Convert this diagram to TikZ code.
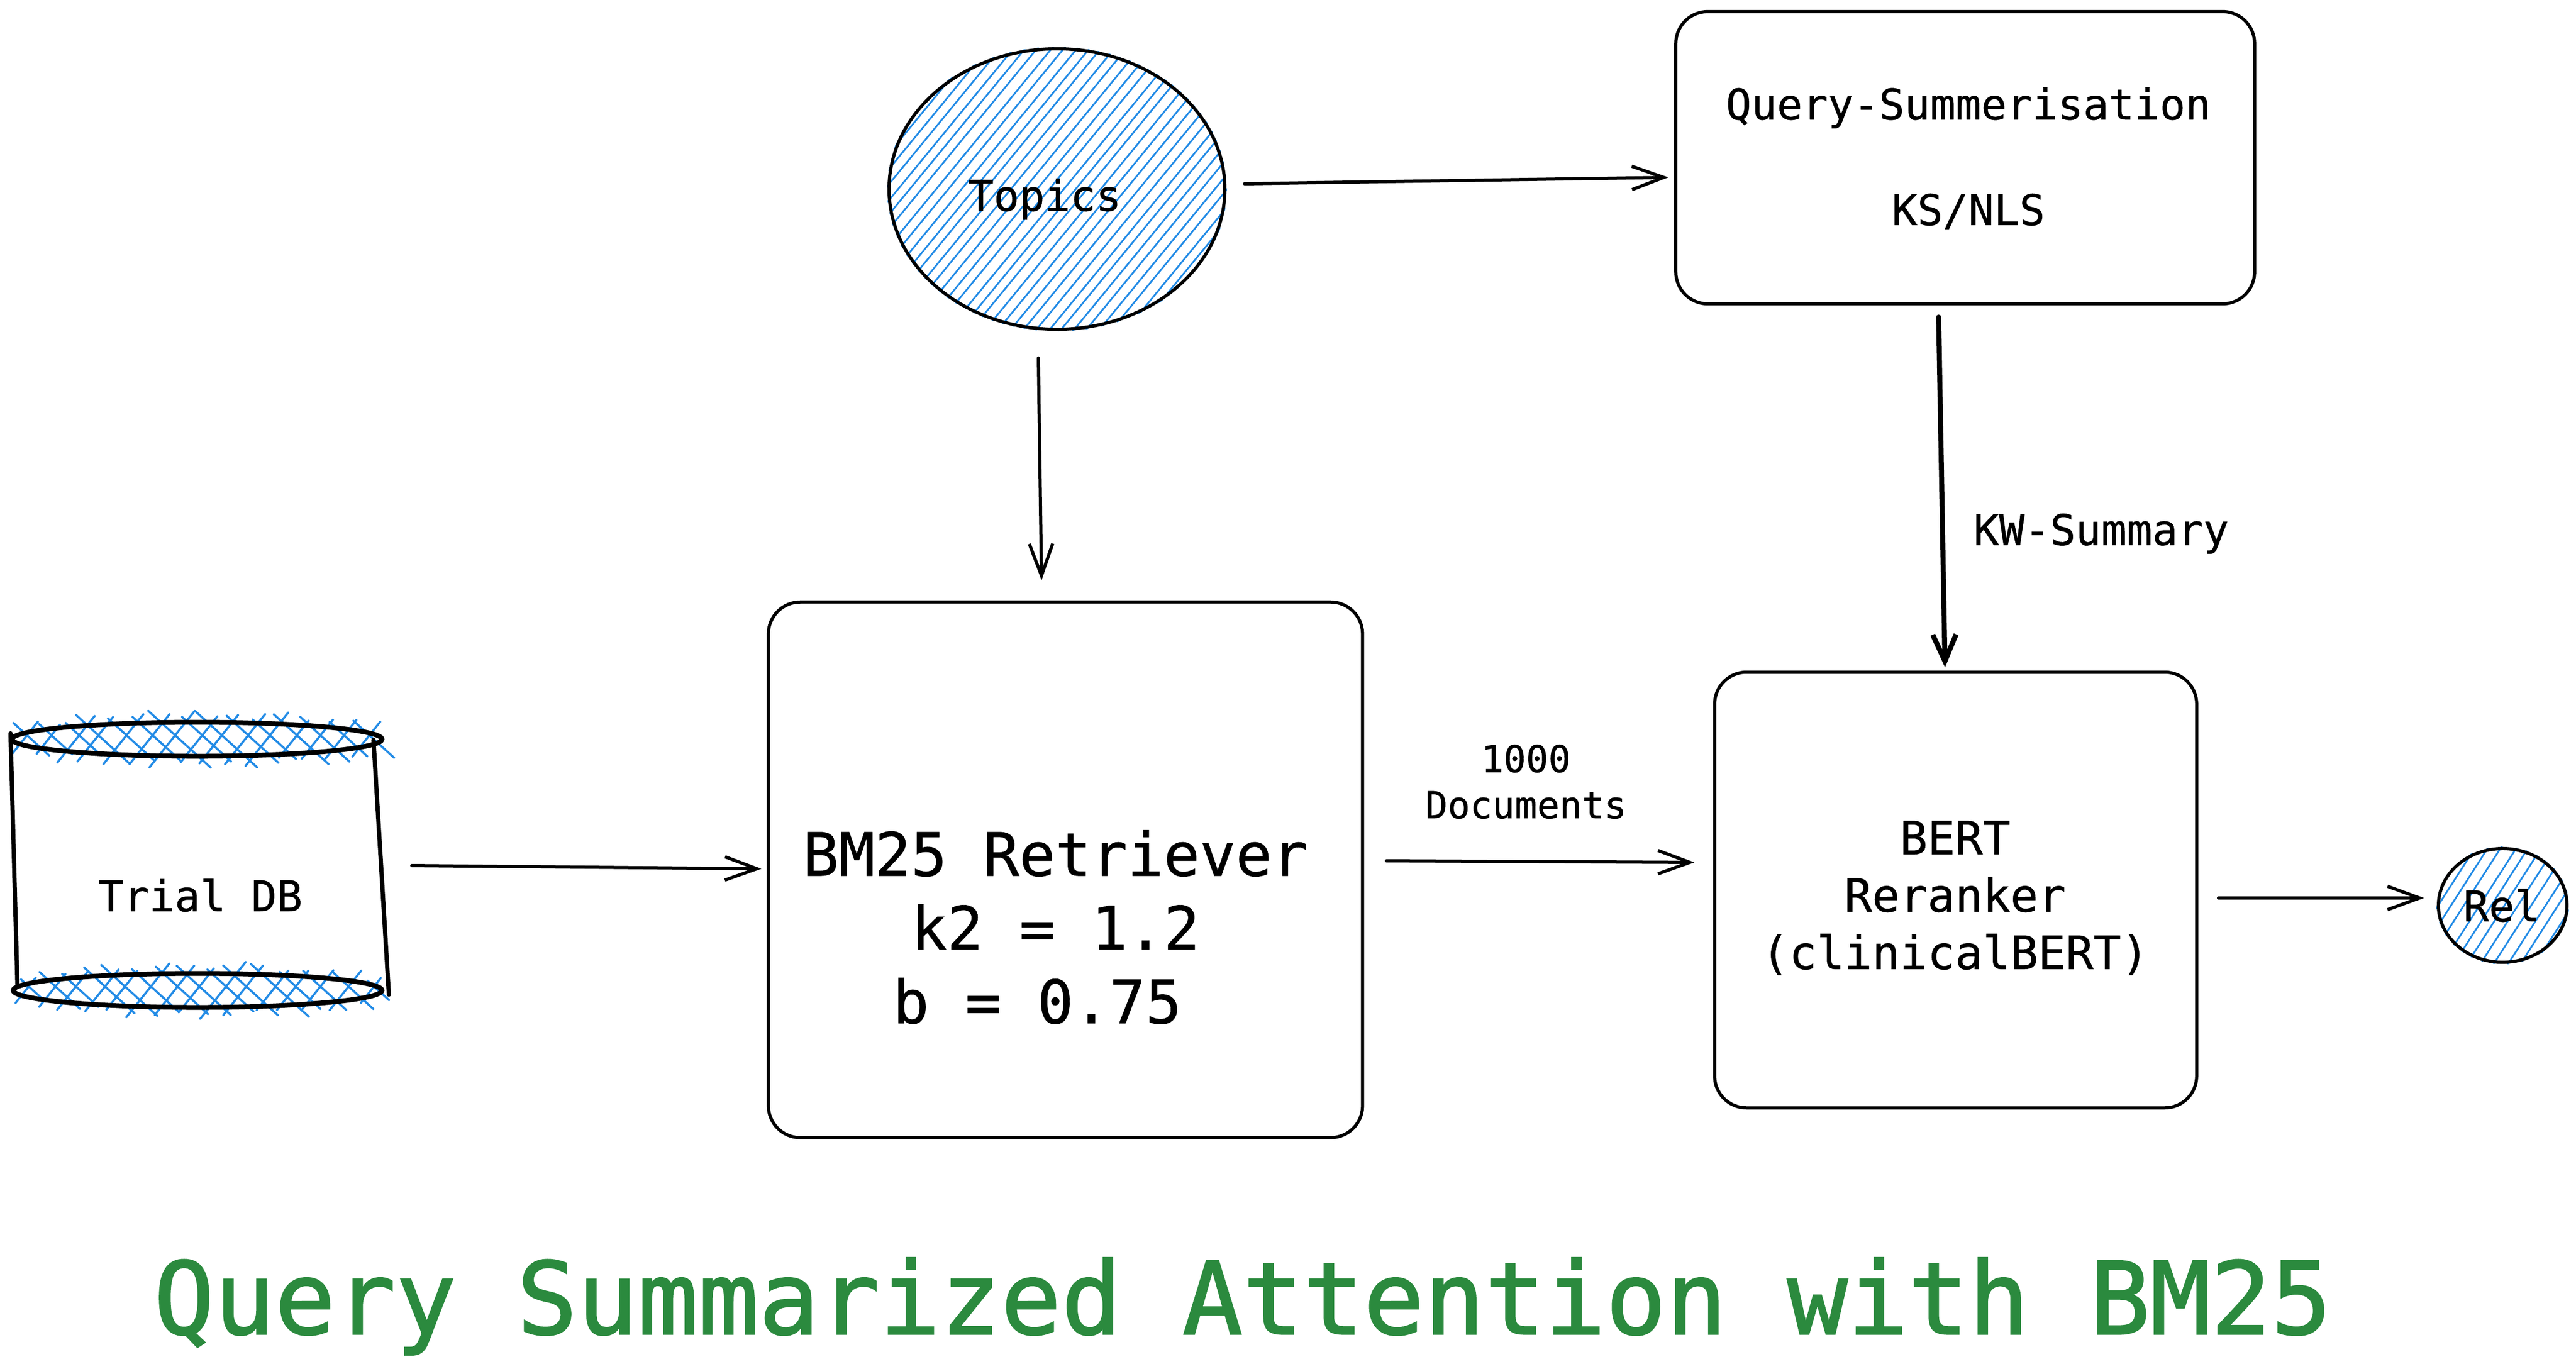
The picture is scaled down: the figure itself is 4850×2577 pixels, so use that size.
\documentclass[tikz,border=0pt]{standalone}
\usepackage{fontspec}
\newfontfamily\sketchfont{DejaVu Sans Mono}[FakeBold=0.6]
\newfontfamily\headfont{DejaVu Sans Mono}[FakeBold=1.4]
\usetikzlibrary{shapes.geometric,arrows.meta,calc}
\definecolor{hatchblue}{HTML}{228BE6}
\definecolor{titlegreen}{HTML}{2B8A3E}
\tikzset{
  hatchline/.style={draw=hatchblue,line width=3.2*0.2845pt,line cap=round},
  crossline/.style={draw=hatchblue,line width=4*0.2845pt,line cap=round},
  sketchbox/.style={draw=black,rounded corners=.6cm,line width=6*0.2845pt,inner sep=0pt,outer sep=0pt},
  blob/.style={ellipse,draw=black,line width=6*0.2845pt,inner sep=0pt,outer sep=0pt},
  disc/.style={ellipse,draw=black,line width=9*0.2845pt,inner sep=0pt,outer sep=0pt},
  dbside/.style={draw=black,line width=8*0.2845pt,line cap=round},
  arr/.style={draw=black,line width=6*0.2845pt,line cap=round,-{Straight Barb[length=.6cm,width=.44cm,line width=6*0.2845pt]}},
  thickarr/.style={draw=black,line width=9.5*0.2845pt,line cap=round,-{Straight Barb[length=.5cm,width=.44cm,line width=9.5*0.2845pt]}},
  lbl/.style={inner sep=0pt,outer sep=0pt,align=center},
  txtm/.style={lbl,font=\sketchfont\fontsize{22.7}{27}\selectfont},
  txts/.style={lbl,font=\sketchfont\fontsize{19.9}{24.7}\selectfont},
  txtb/.style={lbl,font=\sketchfont\fontsize{24.6}{30.7}\selectfont},
  txtl/.style={lbl,font=\sketchfont\fontsize{32.1}{39.5}\selectfont},
  txtt/.style={lbl,text=titlegreen,font=\headfont\fontsize{53.8}{64}\selectfont}
}
% xc yc rx ry spacing run count
\newcommand{\hatchfill}[7]{%
  \begin{scope}
    \clip (#1,#2) ellipse [x radius=#3+4,y radius=#4+4];
    \foreach \i in {0,...,#7}{%
      \pgfmathsetmacro\xx{#1-#3-#6+\i*#5+rnd*5-2.5}%
      \draw[hatchline] ({\xx-#6},{#2+#4+10}) -- ({\xx+#6},{#2-#4-10});
    }
  \end{scope}}
% xc yc rx ry spacing count
\newcommand{\crossfill}[6]{%
  \foreach \i in {0,...,#6}{%
    \pgfmathsetmacro\xx{#1-#3+24+\i*#5+rnd*12-6}%
    \pgfmathsetmacro\hh{#4*sqrt(max(0,1-((\xx-#1)/#3)^2))+6+rnd*16}%
    \pgfmathsetmacro\kk{#4*sqrt(max(0,1-((\xx-#1)/#3)^2))+6+rnd*16}%
    \draw[crossline] ({\xx-.8*\hh},{#2+\hh}) -- ({\xx+.8*\hh},{#2-\hh});
    \draw[crossline] ({\xx+14-1.1*\kk},{#2-\kk}) -- ({\xx+14+1.1*\kk},{#2+\kk});
  }}
\begin{document}
\begin{tikzpicture}[x=.01cm,y=-.01cm]
\useasboundingbox (0,0) rectangle (4850,2577);
\fill[white] (0,0) rectangle (4850,2577);
\pgfmathsetseed{42}
% hatching
\hatchfill{1990}{356}{316}{264}{24}{225}{46}
\hatchfill{4712}{1705}{121}{107}{25}{75}{16}
\crossfill{371}{1392}{348}{32}{46}{14}
\crossfill{372}{1865}{347}{32}{46}{14}
% shapes
\node[blob,minimum width=6.32cm,minimum height=5.28cm] (topics) at (1990,356) {};
\node[blob,minimum width=2.42cm,minimum height=2.14cm] (rel) at (4712,1705) {};
\node[sketchbox,minimum width=10.89cm,minimum height=5.50cm] (qs) at (3700,297) {};
\node[sketchbox,minimum width=11.18cm,minimum height=10.08cm] (bm) at (2006,1638) {};
\node[sketchbox,minimum width=9.07cm,minimum height=8.20cm] (bert) at (3682,1676) {};
\node[disc,minimum width=6.96cm,minimum height=.64cm] (dbtop) at (371,1392) {};
\node[disc,minimum width=6.94cm,minimum height=.64cm] (dbbot) at (372,1865) {};
\node[inner sep=0pt,outer sep=0pt,minimum width=7.12cm,minimum height=4.76cm] (dbbody) at (376,1630) {};
\draw[dbside] ([xshift=-.03cm,yshift=.11cm]dbtop.west) -- ([xshift=.08cm,yshift=.09cm]dbbot.west);
\draw[dbside] ([xshift=-.16cm,yshift=-.01cm]dbtop.east) -- ([xshift=.13cm,yshift=-.08cm]dbbot.east);
% labels
\node[txtm] (dbl) at (377,1686) {Trial DB};
\node[txtm] (topl) at (1967,375) {Topics};
\node[txtm] (rell) at (4710,1705) {Rel};
\node[txtm] (qsa) at (3706,203) {Query-Summerisation};
\node[txtm] (qsb) at (3706,398) {KS/NLS};
\node[txtm] (kw) at (3956,1005) {KW-Summary};
\node[txts] (docs) at (2873,1472) {1000\\Documents};
\node[txtl] (bml) at (1987,1746) {BM25 Retriever\\k2 = 1.2\\b = 0.75\phantom{x}};
\node[txtb] (bertl) at (3681,1691) {BERT\\Reranker\\(clinicalBERT)};
\node[txtt] (title) at (2340,2460) {Query Summarized Attention with BM25};
% connectors
\draw[arr] ([xshift=.37cm,yshift=.10cm]topics.east) -- ([xshift=-.14cm,yshift=-.37cm]qs.west);
\draw[arr] ([xshift=-.35cm,yshift=-.54cm]topics.south) -- ([xshift=-.45cm,yshift=.41cm]bm.north);
\draw[arr] ([xshift=.43cm]dbbody.east) -- ([xshift=-.13cm,yshift=.02cm]bm.west);
\draw[arr] ([xshift=.45cm,yshift=.17cm]bm.east) -- ([xshift=-.38cm,yshift=.52cm]bert.west);
\draw[thickarr] ([xshift=-.50cm,yshift=-.25cm]qs.south) -- ([xshift=-.20cm,yshift=.09cm]bert.north);
\draw[arr] ([xshift=.41cm,yshift=-.15cm]bert.east) -- ([xshift=-.27cm,yshift=.14cm]rel.west);
\end{tikzpicture}
\end{document}
